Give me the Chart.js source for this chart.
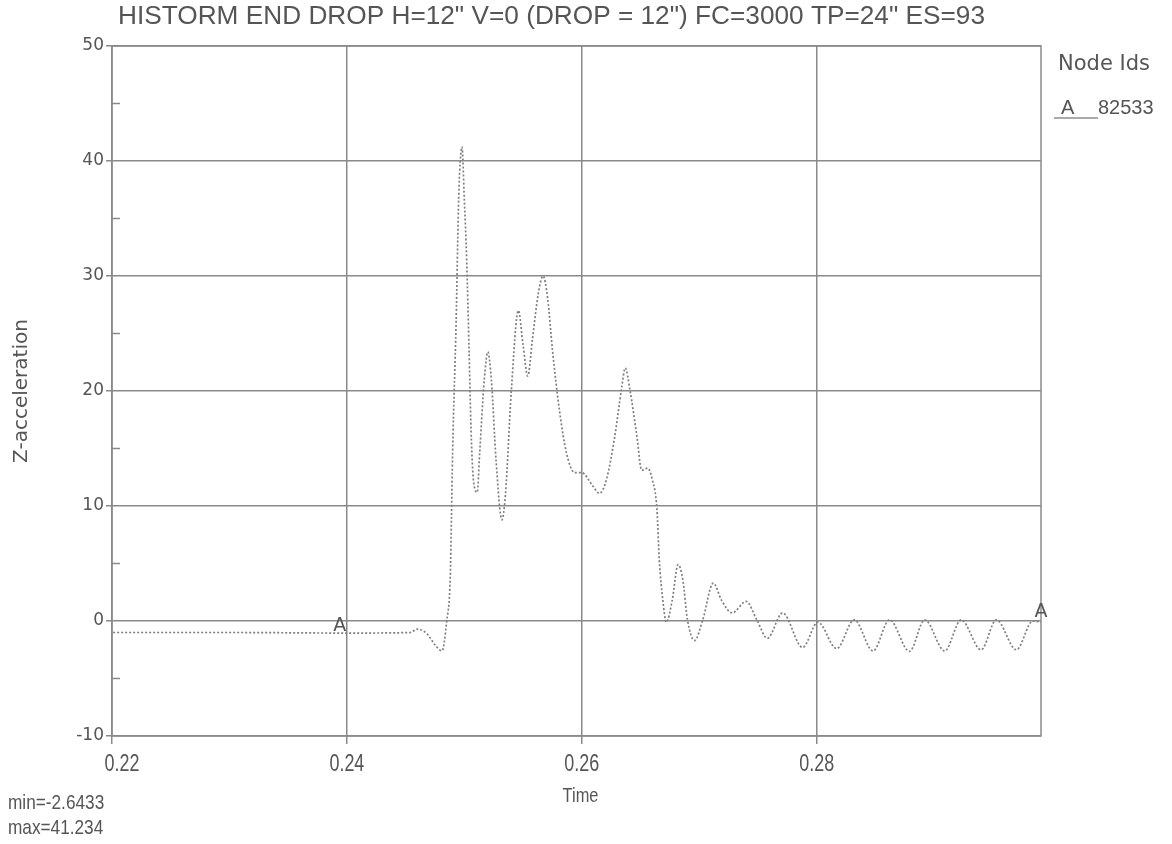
<!DOCTYPE html>
<html>
<head>
<meta charset="utf-8">
<script src="https://cdn.jsdelivr.net/npm/chart.js"></script>
<style>
body { margin: 0; background: #fff; }
</style>
</head>
<body>
<canvas id="canvas" width="1172" height="844"></canvas>
<script>
// values (time in s, z-acceleration)
var time = [0.2201, 0.2300, 0.2400, 0.2454, 0.2460, 0.2468, 0.2476, 0.2481, 0.2485, 0.2488,
    0.2489, 0.2490, 0.2493, 0.2495, 0.2496, 0.2498, 0.2500, 0.2502, 0.2504, 0.2506,
    0.2508, 0.2511, 0.2513, 0.2517, 0.2520, 0.2523, 0.2527, 0.2532, 0.2535, 0.2540,
    0.2546, 0.2550, 0.2554, 0.2558, 0.2563, 0.2567, 0.2571, 0.2575, 0.2581, 0.2587,
    0.2594, 0.2600, 0.2609, 0.2615, 0.2621, 0.2628, 0.2634, 0.2637, 0.2641, 0.2647,
    0.2651, 0.2656, 0.2660, 0.2664, 0.2666, 0.2669, 0.2672, 0.2677, 0.2682, 0.2686,
    0.2690, 0.2696, 0.2703, 0.2712, 0.2719, 0.2728, 0.2740, 0.2749, 0.2758, 0.2771,
    0.2788, 0.2801, 0.2817, 0.2832, 0.2848, 0.2862, 0.2879, 0.2892, 0.2909, 0.2923,
    0.2940, 0.2953, 0.2970, 0.2984, 0.2991];
var zAcc = [-1.0, -1.0, -1.05, -1.0, -0.7, -1.1, -2.2, -2.6, 0.0, 3.8,
    8.8, 14.6, 26.0, 36.0, 39.0, 41.23, 36.6, 31.4, 23.6, 15.7,
    12.0, 11.2, 14.5, 21.0, 23.4, 21.0, 14.0, 8.8, 11.0, 20.0,
    27.0, 24.0, 21.3, 24.5, 28.5, 30.0, 28.0, 23.6, 18.3, 14.6,
    12.9, 12.9, 11.8, 11.1, 12.3, 16.0, 20.3, 22.0, 20.1, 16.0,
    13.1, 13.3, 12.3, 9.7, 5.3, 1.8, -0.1, 1.8, 4.9, 3.6,
    0.1, -1.7, 0.1, 3.3, 1.8, 0.7, 1.7, 0.1, -1.5, 0.7,
    -2.3, -0.1, -2.4, 0.1, -2.6, 0.1, -2.64, 0.1, -2.6, 0.1,
    -2.5, 0.1, -2.5, 0.0, -0.1];

var xTicks = [0.22, 0.24, 0.26, 0.28];
var yTicks = [-10, 0, 10, 20, 30, 40, 50];
var yMinor = [-5, 5, 15, 25, 35, 45];

// the "A" symbols sitting on the curve
var markerTimes = [0.2394, 0.2991];
var markerValues = [-0.4, 0.8];

var titleText = 'HISTORM END DROP H=12" V=0 (DROP = 12") FC=3000 TP=24" ES=93';
var nodeId = '82533';
var minText = 'min=-2.6433';
var maxText = 'max=41.234';

var points = time.map(function (t, i) { return { x: t, y: zAcc[i] }; });

var gray = '#8a8a8a';
var textGray = '#555';
var sans = '"Liberation Sans", Arial, sans-serif';

// no condensed font around, so squeeze a normal one horizontally
function narrowText(ctx, text, x, y, size, sx, align) {
    ctx.save();
    ctx.font = size + 'px ' + sans;
    ctx.textBaseline = 'middle';
    ctx.textAlign = 'left';
    var w = ctx.measureText(text).width * sx;
    var left = x;
    if (align === 'center') left = x - w / 2;
    ctx.translate(left, y);
    ctx.scale(sx, 1);
    ctx.fillText(text, 0, 0);
    ctx.restore();
}

var extras = {
    id: 'extras',
    afterDatasetsDraw: function (chart) {
        var ctx = chart.ctx;
        var a = chart.chartArea;
        var xs = chart.scales.x, ys = chart.scales.y;
        ctx.save();
        // frame
        ctx.strokeStyle = gray;
        ctx.lineWidth = 1.5;
        ctx.strokeRect(a.left, a.top, a.right - a.left, a.bottom - a.top);
        // minor ticks on y axis (inside)
        yMinor.forEach(function (v) {
            var py = ys.getPixelForValue(v);
            ctx.beginPath();
            ctx.moveTo(a.left, py);
            ctx.lineTo(a.left + 8, py);
            ctx.stroke();
        });
        ctx.fillStyle = textGray;

        // title
        ctx.font = '25px ' + sans;
        var tw = ctx.measureText(titleText).width;
        narrowText(ctx, titleText, a.left + 6, 17, 25, 867 / tw, 'left');

        // x tick labels + axis title
        xTicks.forEach(function (v, i) {
            var px = xs.getPixelForValue(v);
            if (i === 0) px += 10;
            narrowText(ctx, v.toFixed(2), px, 765, 23, 0.78, 'center');
        });
        narrowText(ctx, 'Time', (a.left + a.right) / 2 + 4, 796, 21, 0.78, 'center');

        // min / max
        narrowText(ctx, minText, 8, 803, 21, 0.82, 'left');
        narrowText(ctx, maxText, 8, 828, 21, 0.82, 'left');

        // A markers
        ctx.font = '19px "DejaVu Sans"';
        ctx.textAlign = 'center';
        ctx.textBaseline = 'middle';
        markerTimes.forEach(function (t, i) {
            ctx.fillText('A', xs.getPixelForValue(t), ys.getPixelForValue(markerValues[i]));
        });

        // legend
        ctx.textAlign = 'left';
        ctx.font = '21px "DejaVu Sans"';
        ctx.fillText('Node Ids', a.right + 17, a.top + 19);
        ctx.font = '20px ' + sans;
        ctx.fillText('A', a.right + 20, a.top + 62);
        ctx.fillText(nodeId, a.right + 57, a.top + 62);
        ctx.strokeStyle = textGray;
        ctx.lineWidth = 1;
        ctx.beginPath();
        ctx.moveTo(a.right + 13, a.top + 72);
        ctx.lineTo(a.right + 57, a.top + 72);
        ctx.stroke();
        ctx.restore();
    }
};

var ctx = document.getElementById('canvas');
var myChart = new Chart(ctx, {
    type: 'line',
    data: {
        datasets: [{
            label: 'A 82533',
            data: points,
            borderColor: '#7f7f7f',
            borderWidth: 1.7,
            borderDash: [2, 2],
            pointRadius: 0,
            fill: false,
            tension: 0.4,
            cubicInterpolationMode: 'monotone'
        }]
    },
    options: {
        responsive: false,
        animation: false,
        layout: { padding: { left: 0, right: 131, top: 46, bottom: 0 } },
        plugins: {
            legend: { display: false },
            tooltip: { enabled: false },
            title: { display: false }
        },
        scales: {
            x: {
                type: 'linear',
                min: 0.22,
                max: 0.2991,
                afterBuildTicks: function (s) {
                    s.ticks = xTicks.map(function (v) { return { value: v }; });
                },
                afterFit: function (s) { s.height = 108; },
                ticks: { display: false },
                grid: { color: gray, lineWidth: 1.5, tickLength: 8 },
                border: { display: false }
            },
            y: {
                min: -10,
                max: 50,
                afterBuildTicks: function (s) {
                    s.ticks = yTicks.map(function (v) { return { value: v }; });
                },
                afterFit: function (s) { s.width = 112; },
                ticks: {
                    color: textGray,
                    font: { family: 'DejaVu Sans', size: 17 },
                    padding: 2
                },
                grid: { color: gray, lineWidth: 1.5, tickLength: 6 },
                border: { display: false },
                title: {
                    display: true,
                    text: 'Z-acceleration',
                    color: textGray,
                    font: { family: 'DejaVu Sans', size: 20 },
                    padding: { top: 10, bottom: 0 }
                }
            }
        }
    },
    plugins: [extras]
});
</script>
</body>
</html>
